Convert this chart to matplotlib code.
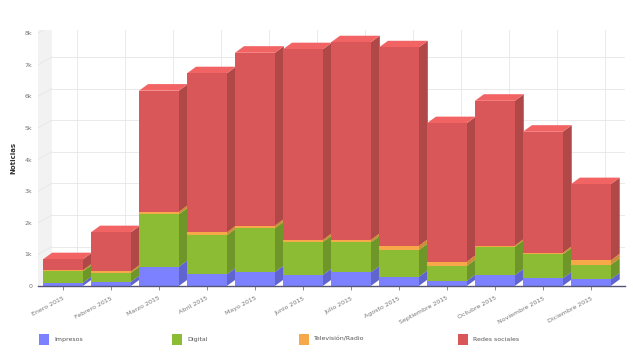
import matplotlib.pyplot as plt
from matplotlib.patches import Polygon

meses = ['Enero 2015', 'Febrero 2015', 'Marzo 2015', 'Abril 2015', 'Mayo 2015',
         'Junio 2015', 'Julio 2015', 'Agosto 2015', 'Septiembre 2015',
         'Octubre 2015', 'Noviembre 2015', 'Diciembre 2015']
impresos = [100, 130, 610, 370, 440, 350, 430, 290, 160, 340, 240, 210]
digital = [365, 290, 1660, 1240, 1390, 1040, 950, 850, 480, 900, 760, 460]
tv_radio = [35, 45, 80, 90, 80, 70, 80, 130, 130, 40, 50, 140]
redes = [345, 1235, 3830, 5030, 5470, 6030, 6250, 6280, 4380, 4580, 3830, 2410]

series = [
    ('Impresos', impresos, '#7c82ff', '#9da2ff', '#5f64cf'),
    ('Digital', digital, '#8cbb34', '#a3d04a', '#6f9628'),
    ('Televisión/Radio', tv_radio, '#f7a94a', '#ffbf66', '#d08a3c'),
    ('Redes sociales', redes, '#d95659', '#f26464', '#b04848'),
]
yticks = [0, 1000, 2000, 3000, 4000, 5000, 6000, 7000, 8000]
ylabels = ['0', '1k', '2k', '3k', '4k', '5k', '6k', '7k', '8k']

fig = plt.figure(figsize=(6.33, 3.56), dpi=100)
ax = fig.add_axes([0.06, 0.1966, 0.927, 0.719])
n = len(meses)
xs = list(range(n))
ax.set_xlim(-0.52, 11.71)
ax.set_ylim(0, 8100)

# pared lateral y rejilla con perspectiva
wdx, wdy = 0.29, 250
x0 = -0.52
ax.add_patch(Polygon([(x0, 0), (x0 + wdx, wdy), (x0 + wdx, 8100), (x0, 8100)],
                     closed=True, fc='#f2f2f2', ec='none', zorder=0))
for v in yticks[1:]:
    ax.plot([x0, x0 + wdx], [v, v + wdy], color='#e6e6e6', lw=0.6, zorder=0.5)
    ax.plot([x0 + wdx, 11.71], [v + wdy, v + wdy], color='#e6e6e6', lw=0.6, zorder=0.5)
for x in xs:
    ax.plot([x + wdx, x + wdx], [wdy, 8100], color='#e6e6e6', lw=0.6, zorder=0.5)

# barras 3D apiladas
w = 0.83
dx, dy = 0.19, 210
bottom = [0] * n
for name, vals, front, top, side in series:
    ax.bar(xs, vals, w, bottom=bottom, color=front, zorder=2, label=name)
    for i in range(n):
        b = bottom[i]
        t = b + vals[i]
        xl, xr = i - w / 2, i + w / 2
        ax.add_patch(Polygon([(xr, b), (xr + dx, b + dy), (xr + dx, t + dy), (xr, t)],
                             closed=True, fc=side, ec='none', zorder=1.5))
        ax.add_patch(Polygon([(xl, t), (xl + dx, t + dy), (xr + dx, t + dy), (xr, t)],
                             closed=True, fc=top, ec='none', zorder=1.5))
    bottom = [bottom[i] + vals[i] for i in range(n)]

for s in ['top', 'right', 'left']:
    ax.spines[s].set_visible(False)
ax.spines['bottom'].set_color('#555577')
ax.spines['bottom'].set_linewidth(1.0)
ax.set_yticks(yticks)
ax.set_yticklabels(ylabels, fontsize=4.5, color='#777777')
ax.tick_params(axis='y', length=0, pad=4)
ax.set_xticks(xs)
ax.set_xticklabels(meses, rotation=28, ha='right', rotation_mode='anchor',
                   fontsize=4.5, color='#777777')
ax.tick_params(axis='x', length=3, color='#777777', width=0.6, pad=4)
ax.set_ylabel('Noticias', fontsize=5, fontweight='bold', color='#333333', labelpad=6)

leg_x = [0.062, 0.272, 0.472, 0.724]
for (name, vals, front, top, side), lx in zip(series, leg_x):
    fig.patches.append(plt.Rectangle((lx, 0.032), 0.016, 0.03, fc=front, ec='none',
                                     transform=fig.transFigure, figure=fig))
    fig.text(lx + 0.024, 0.047, name, fontsize=4.5, color='#555555', va='center')

fig.savefig('out.png', dpi=100)
